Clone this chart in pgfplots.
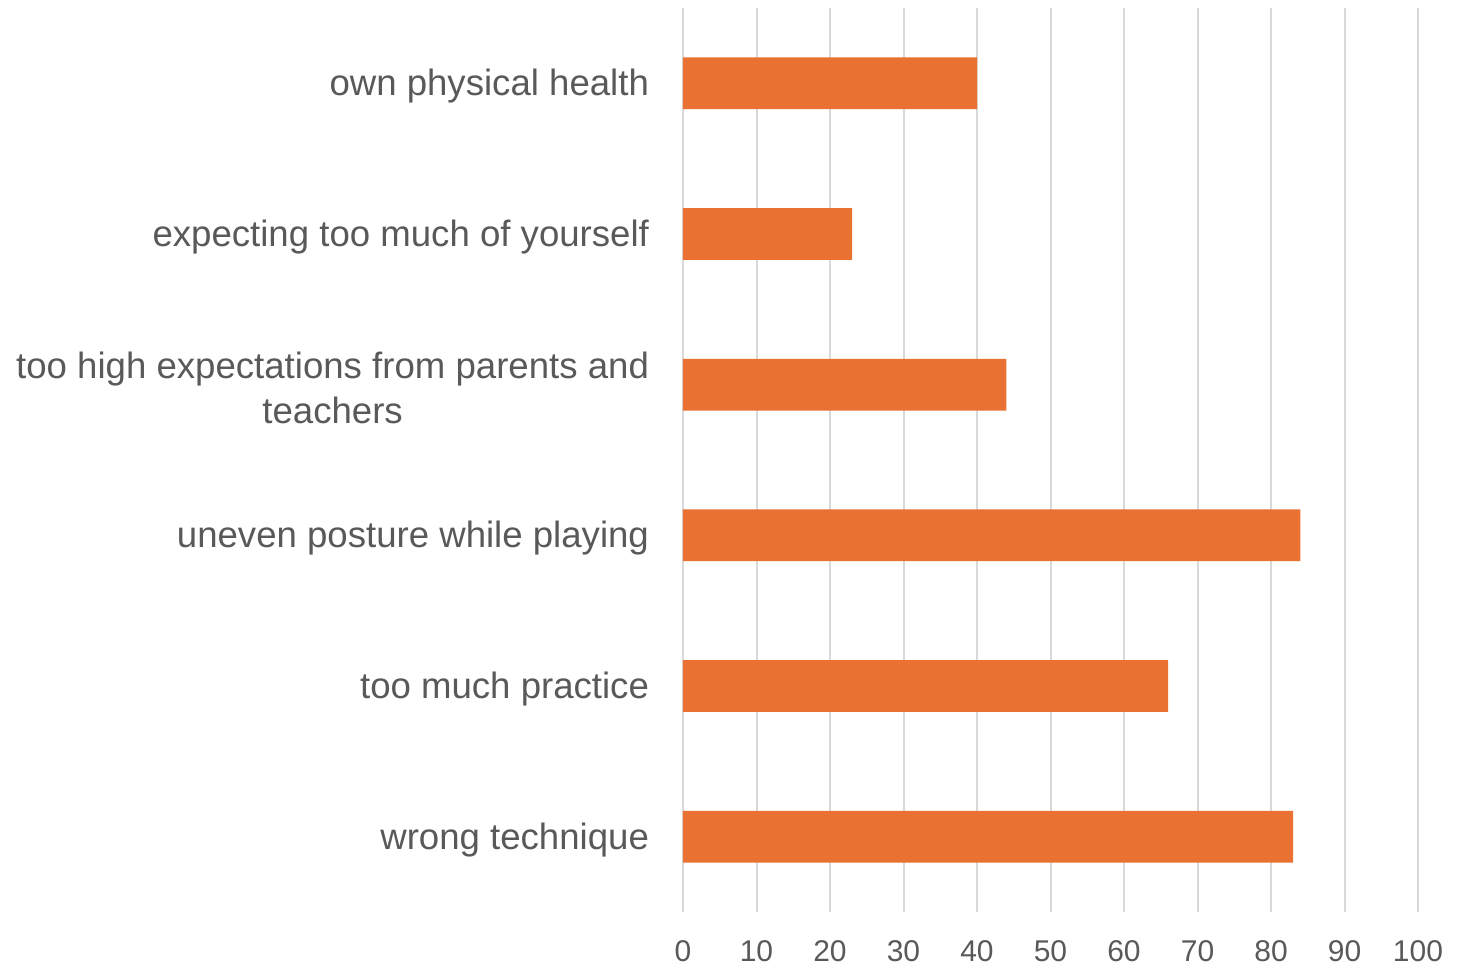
\documentclass[border=0pt]{standalone}
\usepackage{pgfplots}
\pgfplotsset{compat=1.18}
\usepackage{fontspec}
\setmainfont{Liberation Sans}
\definecolor{barorange}{HTML}{E97132}
\definecolor{txt}{HTML}{595959}
\definecolor{gridc}{HTML}{D9D9D9}
\begin{document}
\begin{tikzpicture}
\useasboundingbox (0,0) rectangle (737.5bp,482.5bp);
\begin{axis}[
 at={(341.5bp,26.5bp)}, anchor=south west,
 scale only axis, width=367.5bp, height=452bp,
 xbar, bar width=0.344,
 xmin=0,xmax=100, ymin=-0.5,ymax=5.5,
 xtick={0,10,...,100},
 ytick={0,...,5},
 yticklabels={wrong technique, too much practice, uneven posture while playing, {too high expectations from parents and\\teachers}, expecting too much of yourself, own physical health},
 xmajorgrids, major grid style={gridc, line width=1bp},
 axis line style={draw=none},
 major tick length=0pt,
 tick style={draw=none},
 /pgf/number format/assume math mode=true,
 xticklabel style={font=\fontsize{15bp}{18bp}\selectfont, text=txt, yshift=-10.6bp},
 yticklabel style={font=\fontsize{18.3bp}{22.5bp}\selectfont, text=txt, align=center, xshift=-13.5bp, yshift=-1.5bp},
]
\addplot[fill=barorange, draw=none] coordinates {(83,0) (66,1) (84,2) (44,3) (23,4) (40,5)};
\end{axis}
\end{tikzpicture}
\end{document}
